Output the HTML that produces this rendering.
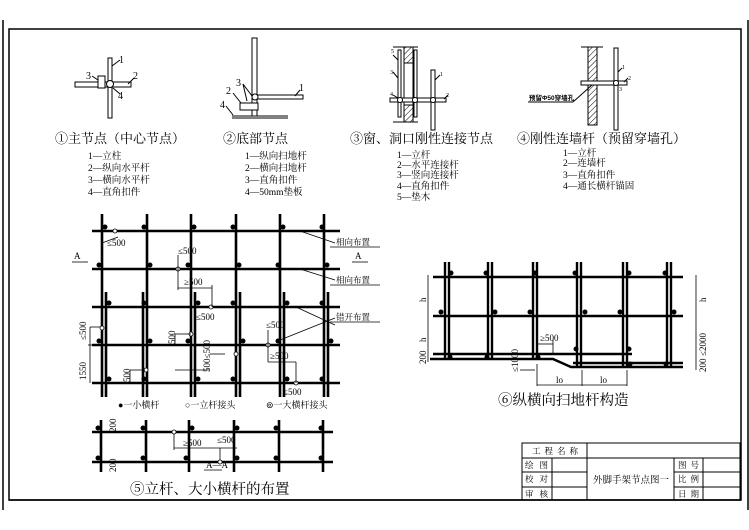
<!DOCTYPE html>
<html><head><meta charset="utf-8"><style>
html,body{margin:0;padding:0;background:#fff;}
svg{display:block;}
text{font-family:"Liberation Serif","Noto Serif CJK SC","Noto Sans CJK SC",serif;fill:#000;}
.s{font-family:"Liberation Sans","Noto Sans CJK SC",sans-serif;}
</style></head><body>
<svg width="749" height="530" viewBox="0 0 749 530" xmlns="http://www.w3.org/2000/svg">
<defs>
<pattern id="h" width="4" height="4" patternUnits="userSpaceOnUse" patternTransform="rotate(45)"><line x1="0" y1="0" x2="0" y2="4" stroke="#000" stroke-width="1"/></pattern>
</defs>
<line x1="3" y1="20" x2="3" y2="510" stroke="#000" stroke-width="1.5"/>
<line x1="748" y1="20" x2="748" y2="510" stroke="#000" stroke-width="1.5"/>
<rect x="9" y="29" width="732" height="471" fill="none" stroke="#000" stroke-width="1.5"/>

<g stroke="#000" fill="#fff" stroke-width="1">
<rect x="108" y="58" width="4" height="60"/>
<rect x="75" y="82" width="56" height="5"/>
<rect x="98" y="76" width="7" height="12"/>
<circle cx="110" cy="84" r="3.5"/>
<line x1="112" y1="66" x2="120" y2="60"/><line x1="128" y1="84" x2="134" y2="78"/>
<line x1="92" y1="76" x2="98" y2="80"/><line x1="113" y1="88" x2="120" y2="94"/>
</g>
<text x="119" y="63" font-size="10">1</text><text x="133" y="79" font-size="10">2</text>
<text x="86" y="79" font-size="10">3</text><text x="118" y="99" font-size="10">4</text>
<text x="55" y="143" font-size="13">①主节点（中心节点）</text>
<g font-size="9.5"><text x="88" y="159">1—立柱</text><text x="88" y="171">2—纵向水平杆</text><text x="88" y="183">3—横向水平杆</text><text x="88" y="195">4—直角扣件</text></g>

<g stroke="#000" fill="#fff" stroke-width="1">
<rect x="252" y="38" width="5" height="78"/>
<rect x="252" y="95" width="51" height="4"/>
<rect x="240" y="103" width="18" height="7"/>
<circle cx="255" cy="97" r="3"/>
<line x1="232" y1="116" x2="288" y2="116"/><line x1="232" y1="118" x2="288" y2="118"/>
<line x1="243" y1="84" x2="252" y2="96"/><line x1="243" y1="84" x2="247" y2="101"/>
<line x1="233" y1="93" x2="241" y2="103"/><line x1="226" y1="106" x2="233" y2="115"/>
<line x1="295" y1="96" x2="300" y2="90"/>
</g>
<text x="236" y="86" font-size="10">3</text><text x="226" y="94" font-size="10">2</text>
<text x="299" y="91" font-size="10">1</text><text x="220" y="108" font-size="10">4</text>
<text x="223" y="143" font-size="13">②底部节点</text>
<g font-size="9.5"><text x="245" y="159">1—纵向扫地杆</text><text x="245" y="171">2—横向扫地杆</text><text x="245" y="183">3—直角扣件</text><text x="245" y="195">4—50mm垫板</text></g>

<g stroke="#000" stroke-width="1">
<rect x="404" y="47" width="9" height="16" fill="url(#h)"/>
<rect x="404" y="105" width="9" height="17" fill="url(#h)"/>
<line x1="393" y1="47" x2="418" y2="47"/><line x1="393" y1="122" x2="418" y2="122"/>
<line x1="404" y1="63" x2="404" y2="105"/><line x1="413" y1="63" x2="413" y2="105"/>
<rect x="398" y="50" width="3" height="67" fill="#fff"/>
<rect x="414" y="50" width="3" height="67" fill="#fff"/>
<rect x="390" y="98" width="56" height="4" fill="#fff"/>
<rect x="431" y="70" width="4" height="60" fill="#fff"/>
<circle cx="400" cy="100" r="2.5" fill="#fff"/><circle cx="415" cy="100" r="2.5" fill="#fff"/><circle cx="433" cy="100" r="2.5" fill="#fff"/>
<line x1="393" y1="55" x2="398" y2="60"/><line x1="393" y1="72" x2="398" y2="78"/><line x1="393" y1="95" x2="398" y2="98"/>
<line x1="435" y1="80" x2="440" y2="75"/><line x1="444" y1="99" x2="448" y2="95"/>
</g>
<g font-size="6"><text x="391" y="53">5</text><text x="390" y="74">3</text><text x="390" y="96">4</text><text x="440" y="76">1</text><text x="446" y="97">2</text></g>
<text x="350" y="143" font-size="13">③窗、洞口刚性连接节点</text>
<g font-size="9.5"><text x="397" y="158">1—立杆</text><text x="397" y="168">2—水平连接杆</text><text x="397" y="178">3—竖向连接杆</text><text x="397" y="189">4—直角扣件</text><text x="397" y="200">5—垫木</text></g>

<g stroke="#000" stroke-width="1">
<rect x="588" y="47" width="9" height="78" fill="url(#h)"/>
<line x1="581" y1="47" x2="603" y2="47"/>
<rect x="614" y="48" width="4" height="82" fill="#fff"/>
<rect x="581" y="81" width="46" height="4" fill="#fff"/>
<circle cx="616" cy="83" r="2.5" fill="#fff"/>
<line x1="528" y1="102" x2="573" y2="102"/><line x1="573" y1="102" x2="592" y2="85"/>
<line x1="618" y1="72" x2="622" y2="68"/><line x1="624" y1="82" x2="628" y2="78"/>
</g>
<text x="529" y="100" font-size="6.5" font-weight="bold" class="s">预留Φ50穿墙孔</text>
<g font-size="6"><text x="622" y="69">1</text><text x="628" y="80">2</text><text x="619" y="91">3</text></g>
<text x="517" y="143" font-size="13">④刚性连墙杆（预留穿墙孔）</text>
<g font-size="9.5"><text x="563" y="156">1—立杆</text><text x="563" y="166">2—连墙杆</text><text x="563" y="178">3—直角扣件</text><text x="563" y="189">4—通长横杆锚固</text></g>

<g stroke="#000" stroke-width="2.6">
<line x1="92" y1="231" x2="340" y2="231"/><line x1="92" y1="269" x2="340" y2="269"/>
<line x1="92" y1="307" x2="340" y2="307"/><line x1="92" y1="345" x2="340" y2="345"/>
<line x1="92" y1="383" x2="340" y2="383"/>
<line x1="102" y1="214" x2="102" y2="397"/><line x1="147" y1="214" x2="147" y2="397"/>
<line x1="191" y1="214" x2="191" y2="397"/><line x1="236" y1="214" x2="236" y2="397"/>
<line x1="280" y1="214" x2="280" y2="397"/><line x1="324" y1="214" x2="324" y2="397"/>
<line x1="106" y1="292" x2="106" y2="397"/><line x1="143" y1="292" x2="143" y2="397"/>
<line x1="195" y1="292" x2="195" y2="397"/><line x1="240" y1="292" x2="240" y2="397"/>
<line x1="284" y1="292" x2="284" y2="397"/><line x1="328" y1="292" x2="328" y2="397"/>
</g>
<g fill="#000">
<circle cx="105" cy="227" r="2.5"/><circle cx="144" cy="227" r="2.5"/><circle cx="194" cy="227" r="2.5"/><circle cx="233" cy="227" r="2.5"/><circle cx="283" cy="227" r="2.5"/><circle cx="322" cy="227" r="2.5"/>
<circle cx="99" cy="265" r="2.5"/><circle cx="150" cy="265" r="2.5"/><circle cx="188" cy="265" r="2.5"/><circle cx="239" cy="265" r="2.5"/><circle cx="278" cy="265" r="2.5"/><circle cx="327" cy="265" r="2.5"/>
<circle cx="109" cy="303" r="2.5"/><circle cx="144" cy="303" r="2.5"/><circle cx="198" cy="303" r="2.5"/><circle cx="233" cy="303" r="2.5"/><circle cx="287" cy="303" r="2.5"/><circle cx="322" cy="303" r="2.5"/>
<circle cx="99" cy="341" r="2.5"/><circle cx="150" cy="341" r="2.5"/><circle cx="188" cy="341" r="2.5"/><circle cx="243" cy="341" r="2.5"/><circle cx="278" cy="341" r="2.5"/><circle cx="331" cy="341" r="2.5"/>
<circle cx="109" cy="379" r="2.5"/><circle cx="144" cy="379" r="2.5"/><circle cx="198" cy="379" r="2.5"/><circle cx="233" cy="379" r="2.5"/><circle cx="287" cy="379" r="2.5"/><circle cx="322" cy="379" r="2.5"/>
</g>
<g stroke="#000" stroke-width="0.8" fill="#fff">
<circle cx="115" cy="231" r="2"/><circle cx="178" cy="269" r="2"/><circle cx="211" cy="307" r="2"/><circle cx="102" cy="328" r="2"/><circle cx="191" cy="334" r="2"/><circle cx="146" cy="370" r="2"/><circle cx="236" cy="354" r="2"/><circle cx="268" cy="345" r="2"/><circle cx="296" cy="383" r="2"/>
<line x1="102" y1="243" x2="118" y2="237"/><line x1="178" y1="255" x2="178" y2="290"/><line x1="178" y1="288" x2="212" y2="288"/><line x1="212" y1="285" x2="212" y2="307"/>
<line x1="90" y1="327" x2="100" y2="327"/><line x1="90" y1="327" x2="90" y2="383"/><line x1="88" y1="345" x2="100" y2="345"/>
<line x1="175" y1="334" x2="191" y2="334"/><line x1="175" y1="334" x2="175" y2="345"/>
<line x1="130" y1="370" x2="145" y2="370"/><line x1="130" y1="370" x2="130" y2="383"/>
<line x1="210" y1="354" x2="225" y2="354"/><line x1="175" y1="370" x2="210" y2="370"/>
<line x1="268" y1="330" x2="268" y2="362"/><line x1="268" y1="362" x2="296" y2="362"/><line x1="296" y1="362" x2="296" y2="383"/>
<line x1="300" y1="231" x2="335" y2="243"/><line x1="300" y1="269" x2="335" y2="280"/><line x1="296" y1="307" x2="335" y2="325"/><line x1="280" y1="340" x2="335" y2="318"/>
<line x1="330" y1="247" x2="380" y2="247"/><line x1="330" y1="285" x2="380" y2="285"/><line x1="330" y1="322" x2="380" y2="322"/>
<line x1="72" y1="262" x2="88" y2="262"/><line x1="352" y1="262" x2="368" y2="262"/>
</g>
<g font-size="9" class="s">
<text x="107" y="246">≤500</text><text x="178" y="254">≤500</text><text x="184" y="285">≥500</text><text x="196" y="320">≤500</text>
<text x="266" y="328">≤500</text><text x="270" y="359">≥500</text><text x="283" y="395">≤500</text>
<text transform="translate(86,380) rotate(-90)">1550</text><text transform="translate(86,340) rotate(-90)">≤500</text>
<text transform="translate(175,344) rotate(-90)">500</text><text transform="translate(210,372) rotate(-90)">500≤500</text><text transform="translate(130,382) rotate(-90)">500</text>
<text x="74" y="259">A</text><text x="355" y="259">A</text>
</g>
<g font-size="8.5"><text x="336" y="245">相向布置</text><text x="336" y="283">相向布置</text><text x="336" y="320">错开布置</text></g>
<g font-size="9"><text x="118" y="408">●一小横杆</text><text x="185" y="408">○一立杆接头</text><text x="266" y="408">⊚一大横杆接头</text></g>

<g stroke="#000" stroke-width="2.6">
<line x1="92" y1="432" x2="333" y2="432"/><line x1="92" y1="462" x2="333" y2="462"/>
<line x1="101" y1="420" x2="101" y2="472"/><line x1="146" y1="420" x2="146" y2="472"/><line x1="189" y1="420" x2="189" y2="472"/>
<line x1="234" y1="420" x2="234" y2="472"/><line x1="279" y1="420" x2="279" y2="472"/><line x1="323" y1="420" x2="323" y2="472"/>
</g>
<g fill="#000">
<circle cx="98" cy="428" r="2.5"/><circle cx="143" cy="428" r="2.5"/><circle cx="192" cy="428" r="2.5"/><circle cx="237" cy="428" r="2.5"/><circle cx="276" cy="428" r="2.5"/><circle cx="321" cy="428" r="2.5"/>
<circle cx="98" cy="458" r="2.5"/><circle cx="143" cy="458" r="2.5"/><circle cx="186" cy="458" r="2.5"/><circle cx="237" cy="458" r="2.5"/><circle cx="276" cy="458" r="2.5"/><circle cx="321" cy="458" r="2.5"/>
</g>
<g stroke="#000" stroke-width="0.8" fill="#fff">
<line x1="174" y1="432" x2="174" y2="450"/><line x1="174" y1="448" x2="237" y2="448"/><line x1="220" y1="448" x2="220" y2="462"/>
<circle cx="174" cy="432" r="2"/><circle cx="220" cy="462" r="2"/><line x1="204" y1="470" x2="222" y2="470"/>
</g>
<g font-size="9" class="s"><text x="183" y="446">≥500</text><text x="217" y="443">≤500</text><text x="206" y="468">A—A</text>
<text transform="translate(116,432) rotate(-90)">200</text><text transform="translate(116,472) rotate(-90)">200</text></g>
<text x="130" y="494" font-size="14.5">⑤立杆、大小横杆的布置</text>

<g stroke="#000" stroke-width="2.4">
<line x1="433" y1="277" x2="683" y2="277"/><line x1="433" y1="316" x2="683" y2="316"/>
<line x1="433" y1="354" x2="632" y2="354"/>
<polyline points="430,359 553,359 571,367 683,367" fill="none"/>
<line x1="573" y1="363" x2="683" y2="363"/>
<line x1="445" y1="262" x2="445" y2="359"/><line x1="449" y1="262" x2="449" y2="359"/>
<line x1="488" y1="262" x2="488" y2="359"/><line x1="492" y1="262" x2="492" y2="359"/>
<line x1="533" y1="262" x2="533" y2="359"/><line x1="537" y1="262" x2="537" y2="359"/>
<line x1="577" y1="262" x2="577" y2="367"/><line x1="581" y1="262" x2="581" y2="367"/>
<line x1="623" y1="262" x2="623" y2="367"/><line x1="627" y1="262" x2="627" y2="367"/>
<line x1="667" y1="262" x2="667" y2="367"/><line x1="671" y1="262" x2="671" y2="367"/>
</g>
<g fill="#000">
<circle cx="451" cy="273" r="2.5"/><circle cx="486" cy="273" r="2.5"/><circle cx="535" cy="273" r="2.5"/><circle cx="575" cy="273" r="2.5"/><circle cx="629" cy="273" r="2.5"/><circle cx="665" cy="273" r="2.5"/>
<circle cx="441" cy="312" r="2.5"/><circle cx="495" cy="312" r="2.5"/><circle cx="530" cy="312" r="2.5"/><circle cx="585" cy="312" r="2.5"/><circle cx="620" cy="312" r="2.5"/><circle cx="674" cy="312" r="2.5"/>
<circle cx="450" cy="357" r="2.5"/><circle cx="487" cy="357" r="2.5"/><circle cx="538" cy="357" r="2.5"/><circle cx="576" cy="349" r="2.5"/><circle cx="629" cy="349" r="2.5"/><circle cx="630" cy="364" r="2.5"/><circle cx="666" cy="364" r="2.5"/>
</g>
<g stroke="#000" stroke-width="0.8">
<line x1="428" y1="275" x2="428" y2="362"/><line x1="696" y1="275" x2="696" y2="370"/>
<line x1="537" y1="364" x2="537" y2="386"/><line x1="537" y1="385" x2="627" y2="385"/><line x1="582" y1="370" x2="582" y2="386"/><line x1="627" y1="370" x2="627" y2="386"/>
<line x1="537" y1="344" x2="553" y2="344"/><line x1="553" y1="340" x2="553" y2="354"/>
<line x1="520" y1="370" x2="535" y2="370"/>
</g>
<g font-size="9" class="s">
<text transform="translate(426,302) rotate(-90)">h</text><text transform="translate(426,342) rotate(-90)">h</text><text transform="translate(426,364) rotate(-90)">200</text>
<text transform="translate(706,302) rotate(-90)">h</text><text transform="translate(706,356) rotate(-90)">≤2000</text><text transform="translate(706,372) rotate(-90)">200</text>
<text transform="translate(518,372) rotate(-90)">≤1000</text>
<text x="540" y="341">≥500</text><text x="556" y="383">lo</text><text x="600" y="383">lo</text>
</g>
<text x="498" y="405" font-size="14.5">⑥纵横向扫地杆构造</text>

<g stroke="#000" stroke-width="1" fill="none">
<line x1="9" y1="500" x2="741" y2="500" stroke-width="1.5"/>
<rect x="522" y="443" width="218" height="57"/>
<line x1="522" y1="458" x2="740" y2="458"/>
<line x1="522" y1="472" x2="587" y2="472"/><line x1="674" y1="472" x2="740" y2="472"/>
<line x1="522" y1="487" x2="587" y2="487"/><line x1="674" y1="487" x2="740" y2="487"/>
<line x1="552" y1="458" x2="552" y2="500"/><line x1="587" y1="443" x2="587" y2="500"/>
<line x1="674" y1="458" x2="674" y2="500"/><line x1="703" y1="458" x2="703" y2="500"/>
</g>
<g font-size="8.5" fill="#444">
<text x="532" y="454" letter-spacing="4">工程名称</text>
<text x="525" y="468" letter-spacing="6">绘图</text><text x="525" y="482" letter-spacing="6">校对</text><text x="525" y="497" letter-spacing="6">审核</text>
<text x="593" y="483" font-size="9.5">外脚手架节点图一</text>
<text x="678" y="468" letter-spacing="4">图号</text><text x="678" y="482" letter-spacing="4">比例</text><text x="678" y="497" letter-spacing="4">日期</text>
</g>
</svg>
</body></html>
